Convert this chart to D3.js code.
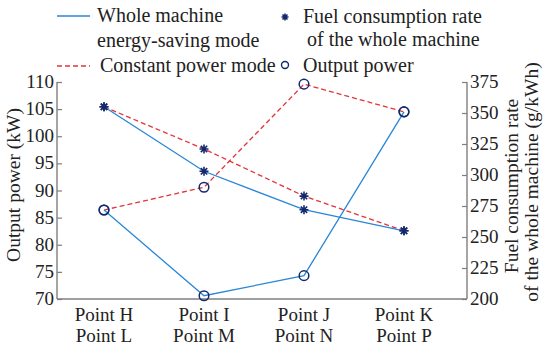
<!DOCTYPE html>
<html><head><meta charset="utf-8">
<script src="https://cdn.jsdelivr.net/npm/d3@7"></script>
<style>body{margin:0;background:#fff}svg{display:block}svg text{font-family:"Liberation Serif","Times New Roman",serif}</style>
</head><body>
<script>
const categoriesTop = ["Point H","Point I","Point J","Point K"];
const categoriesBottom = ["Point L","Point M","Point N","Point P"];
const powerSaving = [86.4, 70.6, 74.3, 104.5];
const powerConstant = [86.4, 90.6, 109.6, 104.5];
const fuelSaving = [355, 303, 272, 255];
const fuelConstant = [355, 321, 283, 255];
const leftTicks = [70,75,80,85,90,95,100,105,110];
const rightTicks = [200,225,250,275,300,325,350,375];

const W = 550, H = 348;
const L = 57, R = 467, T = 82, B = 299;
const font = "Liberation Serif";
const textCol = "#222", axisCol = "#7f7f7f";
const blue = "#2a86d6", red = "#e3343a", navy = "#14286e";

const svg = d3.select("body").append("svg").attr("width", W).attr("height", H);

const x = d3.scaleLinear().domain([0.53, 4.63]).range([L, R]);
const yL = d3.scaleLinear().domain([70, 110]).range([B, T]);
const yR = d3.scaleLinear().domain([200, 375]).range([B, T]);

// axes
const axL = svg.append("g").attr("transform", `translate(${L},0)`)
  .call(d3.axisRight(yL).tickValues(leftTicks).tickSize(5).tickFormat(""));
const axR = svg.append("g").attr("transform", `translate(${R},0)`)
  .call(d3.axisLeft(yR).tickValues(rightTicks).tickSize(5).tickFormat(""));
[axL, axR].forEach(g => {
  g.selectAll("path,line").attr("stroke", axisCol).attr("stroke-width", 1.2);
  g.select("path").attr("d", null);
});
svg.append("line").attr("x1", L).attr("x2", L).attr("y1", T).attr("y2", B).attr("stroke", axisCol).attr("stroke-width", 1.4);
svg.append("line").attr("x1", R).attr("x2", R).attr("y1", T).attr("y2", B).attr("stroke", axisCol).attr("stroke-width", 1.4);
svg.append("line").attr("x1", L).attr("x2", R).attr("y1", B).attr("y2", B).attr("stroke", axisCol).attr("stroke-width", 1.4);

function txt(sel) { return sel.attr("font-family", font).attr("fill", textCol); }

// tick labels
txt(svg.append("g").selectAll("text").data(leftTicks).join("text")
  .attr("x", L - 3).attr("y", d => yL(d) + 6).attr("text-anchor", "end")
  .attr("font-size", 19).text(d => d));
txt(svg.append("g").selectAll("text").data(rightTicks).join("text")
  .attr("x", R + 3).attr("y", d => yR(d) + 6).attr("text-anchor", "start")
  .attr("font-size", 19).text(d => d));
const xl = txt(svg.append("g").selectAll("text").data(categoriesTop).join("text")
  .attr("x", (d, i) => x(i + 1)).attr("y", 321).attr("text-anchor", "middle")
  .attr("font-size", 19));
xl.append("tspan").attr("x", (d, i) => x(i + 1)).text(d => d);
xl.append("tspan").attr("x", (d, i) => x(i + 1)).attr("dy", 21).text((d, i) => categoriesBottom[i]);

// axis titles
txt(svg.append("text").attr("transform", `translate(20,185) rotate(-90)`)
  .attr("text-anchor", "middle").attr("font-size", 19.5).text("Output power (kW)"));
txt(svg.append("text").attr("transform", `translate(518,186) rotate(-90)`)
  .attr("text-anchor", "middle").attr("font-size", 19.5).text("Fuel consumption rate"));
txt(svg.append("text").attr("transform", `translate(538,182) rotate(-90)`)
  .attr("text-anchor", "middle").attr("font-size", 19.5).text("of the whole machine (g/kWh)"));

// lines
function drawLine(vals, yS, col, dash) {
  svg.append("path").datum(vals)
    .attr("d", d3.line().x((d, i) => x(i + 1)).y(d => yS(d)))
    .attr("fill", "none").attr("stroke", col).attr("stroke-width", 1.3)
    .attr("stroke-dasharray", dash);
}
drawLine(fuelConstant, yR, red, "5,3");
drawLine(powerConstant, yL, red, "5,3");
drawLine(fuelSaving, yR, blue, null);
drawLine(powerSaving, yL, blue, null);

// markers
function star(g, cx, cy, r) {
  let d = "";
  for (let k = 0; k < 4; k++) {
    const a = k * Math.PI / 4;
    d += `M${cx - r * Math.cos(a)},${cy - r * Math.sin(a)}L${cx + r * Math.cos(a)},${cy + r * Math.sin(a)}`;
  }
  g.append("path").attr("d", d).attr("stroke", navy).attr("stroke-width", 1.6).attr("fill", "none");
}
const mk = svg.append("g");
[fuelConstant, fuelSaving].forEach(arr => arr.forEach((v, i) => star(mk, x(i + 1), yR(v), 4.5)));
[powerConstant, powerSaving].forEach(arr => arr.forEach((v, i) => {
  mk.append("circle").attr("cx", x(i + 1)).attr("cy", yL(v)).attr("r", 4.8)
    .attr("fill", "none").attr("stroke", navy).attr("stroke-width", 1.5);
}));

// legend
const lg = svg.append("g");
lg.append("line").attr("x1", 57).attr("x2", 90).attr("y1", 16).attr("y2", 16).attr("stroke", blue).attr("stroke-width", 1.3);
txt(lg.append("text").attr("x", 97).attr("y", 22).attr("font-size", 20).text("Whole machine"));
txt(lg.append("text").attr("x", 97).attr("y", 47).attr("font-size", 20).text("energy-saving mode"));
lg.append("line").attr("x1", 57).attr("x2", 90).attr("y1", 66).attr("y2", 66).attr("stroke", red).attr("stroke-width", 1.3).attr("stroke-dasharray", "5,3");
txt(lg.append("text").attr("x", 100).attr("y", 72).attr("font-size", 20).text("Constant power mode"));
star(lg, 285, 17, 3.5);
txt(lg.append("text").attr("x", 303).attr("y", 23).attr("font-size", 20).text("Fuel consumption rate"));
txt(lg.append("text").attr("x", 307).attr("y", 46).attr("font-size", 20).text("of the whole machine"));
lg.append("circle").attr("cx", 285).attr("cy", 65).attr("r", 3.5).attr("fill", "none").attr("stroke", navy).attr("stroke-width", 1.4);
txt(lg.append("text").attr("x", 303).attr("y", 72).attr("font-size", 20).text("Output power"));
</script>
</body></html>
